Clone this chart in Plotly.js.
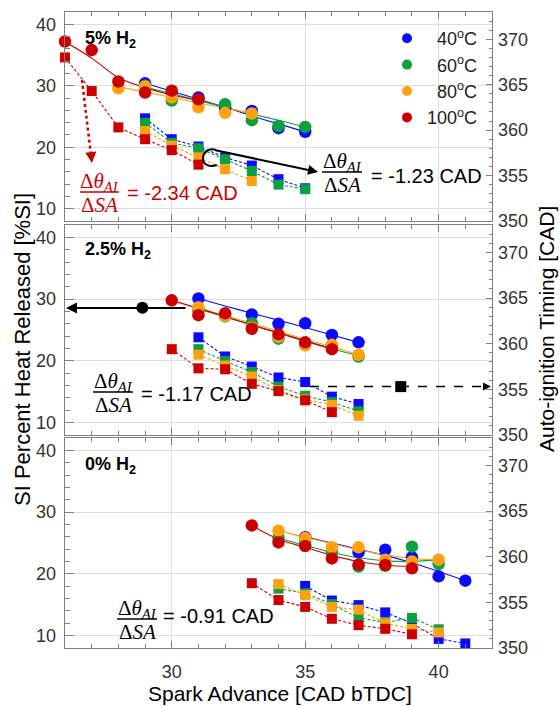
<!DOCTYPE html>
<html><head><meta charset="utf-8">
<script src="https://cdn.plot.ly/plotly-3.0.1.min.js"></script>
<style>body{margin:0;background:#fff}#chart{width:560px;height:707px}</style>
</head><body><div id="chart"></div>
<script>
// ---------- categories / labels ----------
const temps = ['40', '60', '80', '100'];
const tempColors = ['#0a0aff', '#0ca041', '#ffa00f', '#cd0000'];
const panelLabels = ['5% H<sub>2</sub>', '2.5% H<sub>2</sub>', '0% H<sub>2</sub>'];
const slopeLabels = ['= -2.34 CAD', '= -1.23 CAD', '= -1.17 CAD', '= -0.91 CAD'];

// ---------- spark advance (x) values ----------
const sa26to31 = [26, 27, 28, 29, 30, 31];
const sa28to33 = [28, 29, 30, 31, 32, 33];
const sa29to33 = [29, 30, 31, 32, 33];
const sa29to35 = [29, 30, 31, 32, 33, 34, 35];
const sa30to36 = [30, 31, 32, 33, 34, 35, 36];
const sa31to37 = [31, 32, 33, 34, 35, 36, 37];
const sa33to39 = [33, 34, 35, 36, 37, 38, 39];
const sa34to40 = [34, 35, 36, 37, 38, 39, 40];
const sa35to41 = [35, 36, 37, 38, 39, 40, 41];
const mid40HrX = [31, 33, 34, 35, 36, 37];
const low40HrX = [35, 37, 38, 39, 40, 41];

// ---------- 5% H2 ----------
const h5_hr40 = [30.4, 28.8, 28.1, 26.4, 25.9, 23.1, 22.5];
const h5_fit40 = [30.4, 29.1, 27.8, 26.5, 25.1, 23.8, 22.5];
const h5_ai40 = [361.3, 359.0, 358.2, 357.0, 356.1, 354.6, 353.6];
const h5_hr60 = [30.0, 27.6, 27.7, 27.0, 24.4, 23.45, 23.3];
const h5_fit60 = [29.8, 28.7, 27.6, 26.5, 25.4, 24.4, 23.3];
const h5_ai60 = [360.8, 358.6, 358.0, 356.8, 355.5, 354.0, 353.5];
const h5_hr80 = [29.6, 29.9, 28.1, 26.5, 25.6, 25.5];
const h5_fit80 = [29.85, 29.0, 28.1, 27.2, 26.4, 25.5];
const h5_ai80 = [359.9, 358.3, 357.0, 355.7, 354.4];
const h5_hr100 = [37.2, 35.8, 30.7, 28.9, 29.2, 27.8];
const h5_fit100 = [37.2, 34.5, 31.3, 29.7, 28.5, 27.6];
const h5_ai100 = [368.0, 364.3, 360.3, 359.0, 357.8, 356.2];

// ---------- 2.5% H2 ----------
const h25_hr40 = [30.1, 27.5, 26.0, 26.1, 24.2, 23.0];
const h25_fit40 = [30.1, 28.9, 27.7, 26.6, 25.4, 24.2, 23.0];
const h25_ai40 = [360.7, 358.6, 357.5, 356.3, 355.8, 354.2, 353.4];
const h25_hr60 = [28.2, 27.2, 26.1, 23.6, 22.8, 22.5, 20.7];
const h25_fit60 = [28.4, 27.1, 25.8, 24.6, 23.3, 22.0, 20.8];
const h25_ai60 = [359.4, 358.1, 356.9, 355.3, 354.3, 353.6, 352.6];
const h25_hr80 = [28.7, 27.3, 25.4, 23.9, 22.5, 22.6, 21.0];
const h25_fit80 = [28.6, 27.3, 26.1, 24.8, 23.5, 22.3, 21.0];
const h25_ai80 = [358.8, 357.6, 356.4, 354.9, 353.9, 353.3, 352.1];
const h25_hr100 = [29.8, 27.4, 27.7, 25.2, 24.3, 23.0, 21.9];
const h25_fit100 = [29.8, 28.5, 27.2, 25.8, 24.5, 23.2, 21.9];
const h25_ai100 = [359.4, 357.3, 357.2, 355.6, 354.8, 353.8, 352.5];

// ---------- 0% H2 ----------
const h0_hr40 = [25.95, 23.5, 23.9, 22.7, 19.6, 18.9];
const h0_fit40 = [26.0, 25.0, 24.0, 23.0, 21.8, 20.4, 18.9];
const h0_ai40 = [356.8, 355.2, 354.7, 353.9, 352.7, 351.0, 350.5];
const h0_hr60 = [25.85, 25.2, 23.5, 21.2, 21.3, 24.4, 21.6];
const h0_fit60 = [25.8, 24.6, 23.5, 22.6, 22.1, 22.0, 22.3];
const h0_ai60 = [356.5, 356.0, 354.8, 353.3, 352.8, 353.3, 352.05];
const h0_hr80 = [27.0, 25.8, 24.3, 24.3, 22.3, 22.0, 22.3];
const h0_fit80 = [27.0, 25.9, 24.9, 23.9, 23.1, 22.5, 22.3];
const h0_ai80 = [357.0, 355.8, 354.5, 354.2, 352.7, 352.1, 351.7];
const h0_hr100 = [27.85, 25.1, 24.5, 22.5, 21.5, 21.45, 20.9];
const h0_fit100 = [27.8, 25.6, 24.3, 23.0, 22.0, 21.4, 21.2];
const h0_ai100 = [357.1, 355.25, 354.5, 353.2, 352.5, 352.1, 351.5];

// ---------- arrow guide markers (2.5% panel) ----------
const guideDotX = [28.9], guideDotY = [28.6];      // heat-release axis
const guideSqX = [38.58], guideSqY = [355.3];      // auto-ignition axis

// ---------- build ----------
const panels = [
  {xa: 'x3', yl: 'y5', yr: 'y6', s: [
    {hrX: sa29to35, hr: h5_hr40, fitX: sa29to35, fit: h5_fit40, aiX: sa29to35, ai: h5_ai40},
    {hrX: sa29to35, hr: h5_hr60, fitX: sa29to35, fit: h5_fit60, aiX: sa29to35, ai: h5_ai60},
    {hrX: sa28to33, hr: h5_hr80, fitX: sa28to33, fit: h5_fit80, aiX: sa29to33, ai: h5_ai80},
    {hrX: sa26to31, hr: h5_hr100, fitX: sa26to31, fit: h5_fit100, aiX: sa26to31, ai: h5_ai100}]},
  {xa: 'x2', yl: 'y3', yr: 'y4', s: [
    {hrX: mid40HrX, hr: h25_hr40, fitX: sa31to37, fit: h25_fit40, aiX: sa31to37, ai: h25_ai40},
    {hrX: sa31to37, hr: h25_hr60, fitX: sa31to37, fit: h25_fit60, aiX: sa31to37, ai: h25_ai60},
    {hrX: sa31to37, hr: h25_hr80, fitX: sa31to37, fit: h25_fit80, aiX: sa31to37, ai: h25_ai80},
    {hrX: sa30to36, hr: h25_hr100, fitX: sa30to36, fit: h25_fit100, aiX: sa30to36, ai: h25_ai100}]},
  {xa: 'x', yl: 'y', yr: 'y2', s: [
    {hrX: low40HrX, hr: h0_hr40, fitX: sa35to41, fit: h0_fit40, aiX: sa35to41, ai: h0_ai40},
    {hrX: sa34to40, hr: h0_hr60, fitX: sa34to40, fit: h0_fit60, aiX: sa34to40, ai: h0_ai60},
    {hrX: sa34to40, hr: h0_hr80, fitX: sa34to40, fit: h0_fit80, aiX: sa34to40, ai: h0_ai80},
    {hrX: sa33to39, hr: h0_hr100, fitX: sa33to39, fit: h0_fit100, aiX: sa33to39, ai: h0_ai100}]}
];

const traces = [];
panels.forEach(p => {
  p.s.forEach((d, i) => traces.push({x: d.fitX, y: d.fit, xaxis: p.xa, yaxis: p.yl, mode: 'lines',
    line: {color: tempColors[i], width: 1.1, shape: 'spline', smoothing: 0.8}, showlegend: false, hoverinfo: 'skip'}));
  p.s.forEach((d, i) => traces.push({x: d.aiX, y: d.ai, xaxis: p.xa, yaxis: p.yr, mode: 'lines+markers',
    line: {color: tempColors[i], width: 1.1, dash: '3px,2px'},
    marker: {symbol: 'square', size: 10, color: tempColors[i]}, cliponaxis: false, showlegend: false}));
  p.s.forEach((d, i) => traces.push({x: d.hrX, y: d.hr, xaxis: p.xa, yaxis: p.yl, mode: 'markers',
    marker: {symbol: 'circle', size: 12.5, color: tempColors[i]}, cliponaxis: false, showlegend: false}));
});
traces.push({x: guideDotX, y: guideDotY, xaxis: 'x2', yaxis: 'y3', mode: 'markers',
  marker: {symbol: 'circle', size: 12, color: '#000'}, showlegend: false});
traces.push({x: guideSqX, y: guideSqY, xaxis: 'x2', yaxis: 'y4', mode: 'markers',
  marker: {symbol: 'square', size: 11, color: '#000'}, showlegend: false});
temps.forEach((t, i) => traces.push({x: [null], y: [null], xaxis: 'x3', yaxis: 'y5', mode: 'markers',
  marker: {symbol: 'circle', size: 10, color: tempColors[i]}, legendgroup: t, showlegend: true,
  name: (t.length < 3 ? '\u2007' : '') + t + '<sup>o</sup>C'}));

// ---------- layout ----------
const F = 'Liberation Sans, Arial, sans-serif';
const SERIF = 'Liberation Serif, DejaVu Serif, serif';
const W = 560, H = 707, ML = 65, MR = 68, MT = 12, MB = 59;
const PW = W - ML - MR, PH = H - MT - MB;
const px = v => (v - ML) / PW;
const py = v => (H - MB - v) / PH;
const frame = '#808080';

function xax(anchor, labels) {
  return {anchor: anchor, range: [26, 42], dtick: 5, tick0: 0, showline: true, linecolor: frame, linewidth: 1.3,
    mirror: 'ticks', ticks: 'inside', ticklen: 7, tickcolor: frame, tickwidth: 1,
    minor: {dtick: 1, ticks: 'inside', ticklen: 4, tickcolor: frame, showgrid: false},
    showgrid: true, gridcolor: '#dedede', gridwidth: 1, zeroline: false,
    showticklabels: labels, ticklabelstandoff: 7, tickfont: {family: F, size: 18, color: '#333'}};
}
function yl(domain, anchor) {
  return {domain: domain, anchor: anchor, range: [8, 42], dtick: 10, tick0: 0, showline: true, linecolor: frame,
    linewidth: 1.3, mirror: true, ticks: 'inside', ticklen: 9, tickcolor: frame,
    minor: {dtick: 2, ticks: 'inside', ticklen: 5, tickcolor: frame, showgrid: false},
    showgrid: true, gridcolor: '#dedede', zeroline: false, ticklabelstandoff: 4,
    tickfont: {family: F, size: 18, color: '#333'}};
}
function yr(over, anchor) {
  return {overlaying: over, anchor: anchor, side: 'right', range: [350, 373], dtick: 5, tick0: 0,
    showline: false, ticks: 'inside', ticklen: 6, tickcolor: frame,
    minor: {dtick: 1, ticks: 'inside', ticklen: 3, tickcolor: frame, showgrid: false},
    showgrid: false, zeroline: false, ticklabelstandoff: 5, tickfont: {family: F, size: 18, color: '#333'}};
}

const ann = [];
const shapes = [];
function text(t, x, y, opts) {
  ann.push(Object.assign({text: t, xref: 'paper', yref: 'paper', x: px(x), y: py(y), showarrow: false,
    xanchor: 'left', yanchor: 'middle', font: {family: F, size: 20, color: '#000'}}, opts || {}));
}
function fraction(cx, barY, x0, x1, color, label, labelX, labelY) {
  text('Δ<i>θ<sub>AI</sub></i>', cx, barY - 10, {xanchor: 'center', font: {family: SERIF, size: 21, color: color}});
  text('Δ<i>SA</i>', cx, barY + 13, {xanchor: 'center', font: {family: SERIF, size: 21, color: color}});
  shapes.push({type: 'line', xref: 'paper', yref: 'paper', x0: px(x0), x1: px(x1), y0: py(barY), y1: py(barY),
    line: {color: color, width: 1.5}});
  text(label, labelX, labelY, {font: {family: F, size: 20, color: color}});
}
function arrowHead(tipX, tipY, ax, ay, color, w) {
  ann.push({text: '', xref: 'paper', yref: 'paper', x: px(tipX), y: py(tipY), ax: ax, ay: ay,
    showarrow: true, arrowhead: 2, arrowsize: 1, arrowwidth: w, arrowcolor: color, standoff: 0});
}

// panel labels
text('<b>' + panelLabels[0] + '</b>', 83, 40, {font: {family: F, size: 18, color: '#000'}});
text('<b>' + panelLabels[1] + '</b>', 83, 250, {font: {family: F, size: 18, color: '#000'}});
text('<b>' + panelLabels[2] + '</b>', 83, 466, {font: {family: F, size: 18, color: '#000'}});

// slope fractions
fraction(99, 192, 80, 119, '#cd0000', slopeLabels[0], 125, 193);
fraction(342, 172, 322, 362, '#000', slopeLabels[1], 369, 176);
fraction(113, 392, 93, 133, '#000', slopeLabels[2], 139, 394);
fraction(137, 619, 117, 157, '#000', slopeLabels[3], 161, 616);

// red dotted arrow (5%)
shapes.push({type: 'line', xref: 'paper', yref: 'paper', x0: px(82), y0: py(80), x1: px(91), y1: py(155),
  line: {color: '#cd0000', width: 2.5, dash: 'dot'}});
arrowHead(92, 163, -1, -9, '#cd0000', 2.2);

// black curled arrow (5%)
shapes.push({type: 'path', xref: 'paper', yref: 'paper',
  path: `M ${px(216)},${py(150)} C ${px(200)},${py(145)} ${px(197)},${py(171)} ${px(217)},${py(165)}`,
  line: {color: '#000', width: 2}});
arrowHead(318, 172, -104, -22, '#000', 2);

// black arrows (2.5%)
arrowHead(66, 308, 121, 0, '#000', 2.2);
shapes.push({type: 'line', xref: 'paper', yref: 'paper', x0: px(310), y0: py(386.5), x1: px(484), y1: py(386.5),
  line: {color: '#000', width: 1.6, dash: 'dash'}});
arrowHead(491, 386.5, -8, 0, '#000', 1.6);

// axis titles
text('SI Percent Heat Released [%SI]', 22, 350, {xanchor: 'center', textangle: -90, font: {family: F, size: 22, color: '#000'}});
text('Auto-ignition Timing [CAD]', 547, 329, {xanchor: 'center', textangle: -90, font: {family: F, size: 21, color: '#000'}});
text('Spark Advance [CAD bTDC]', 280, 693, {xanchor: 'center', font: {family: F, size: 21, color: '#000'}});

const layout = {
  width: W, height: H, margin: {l: ML, r: MR, t: MT, b: MB},
  paper_bgcolor: '#fff', plot_bgcolor: '#fff',
  font: {family: F, size: 18, color: '#333'},
  xaxis: xax('y', true), xaxis2: xax('y3', false), xaxis3: xax('y5', false),
  yaxis: yl([0, 0.3302], 'x'), yaxis2: yr('y', 'x'),
  yaxis3: yl([0.3349, 0.6651], 'x2'), yaxis4: yr('y3', 'x2'),
  yaxis5: yl([0.6714, 1], 'x3'), yaxis6: yr('y5', 'x3'),
  showlegend: true,
  legend: {x: px(387), y: py(20), xanchor: 'left', yanchor: 'top', bgcolor: 'rgba(0,0,0,0)',
    font: {family: F, size: 18, color: '#222'}, traceorder: 'grouped', tracegroupgap: 0, itemwidth: 30},
  annotations: ann, shapes: shapes
};

Plotly.newPlot('chart', traces, layout, {displayModeBar: false, staticPlot: true});
</script>
</body></html>
